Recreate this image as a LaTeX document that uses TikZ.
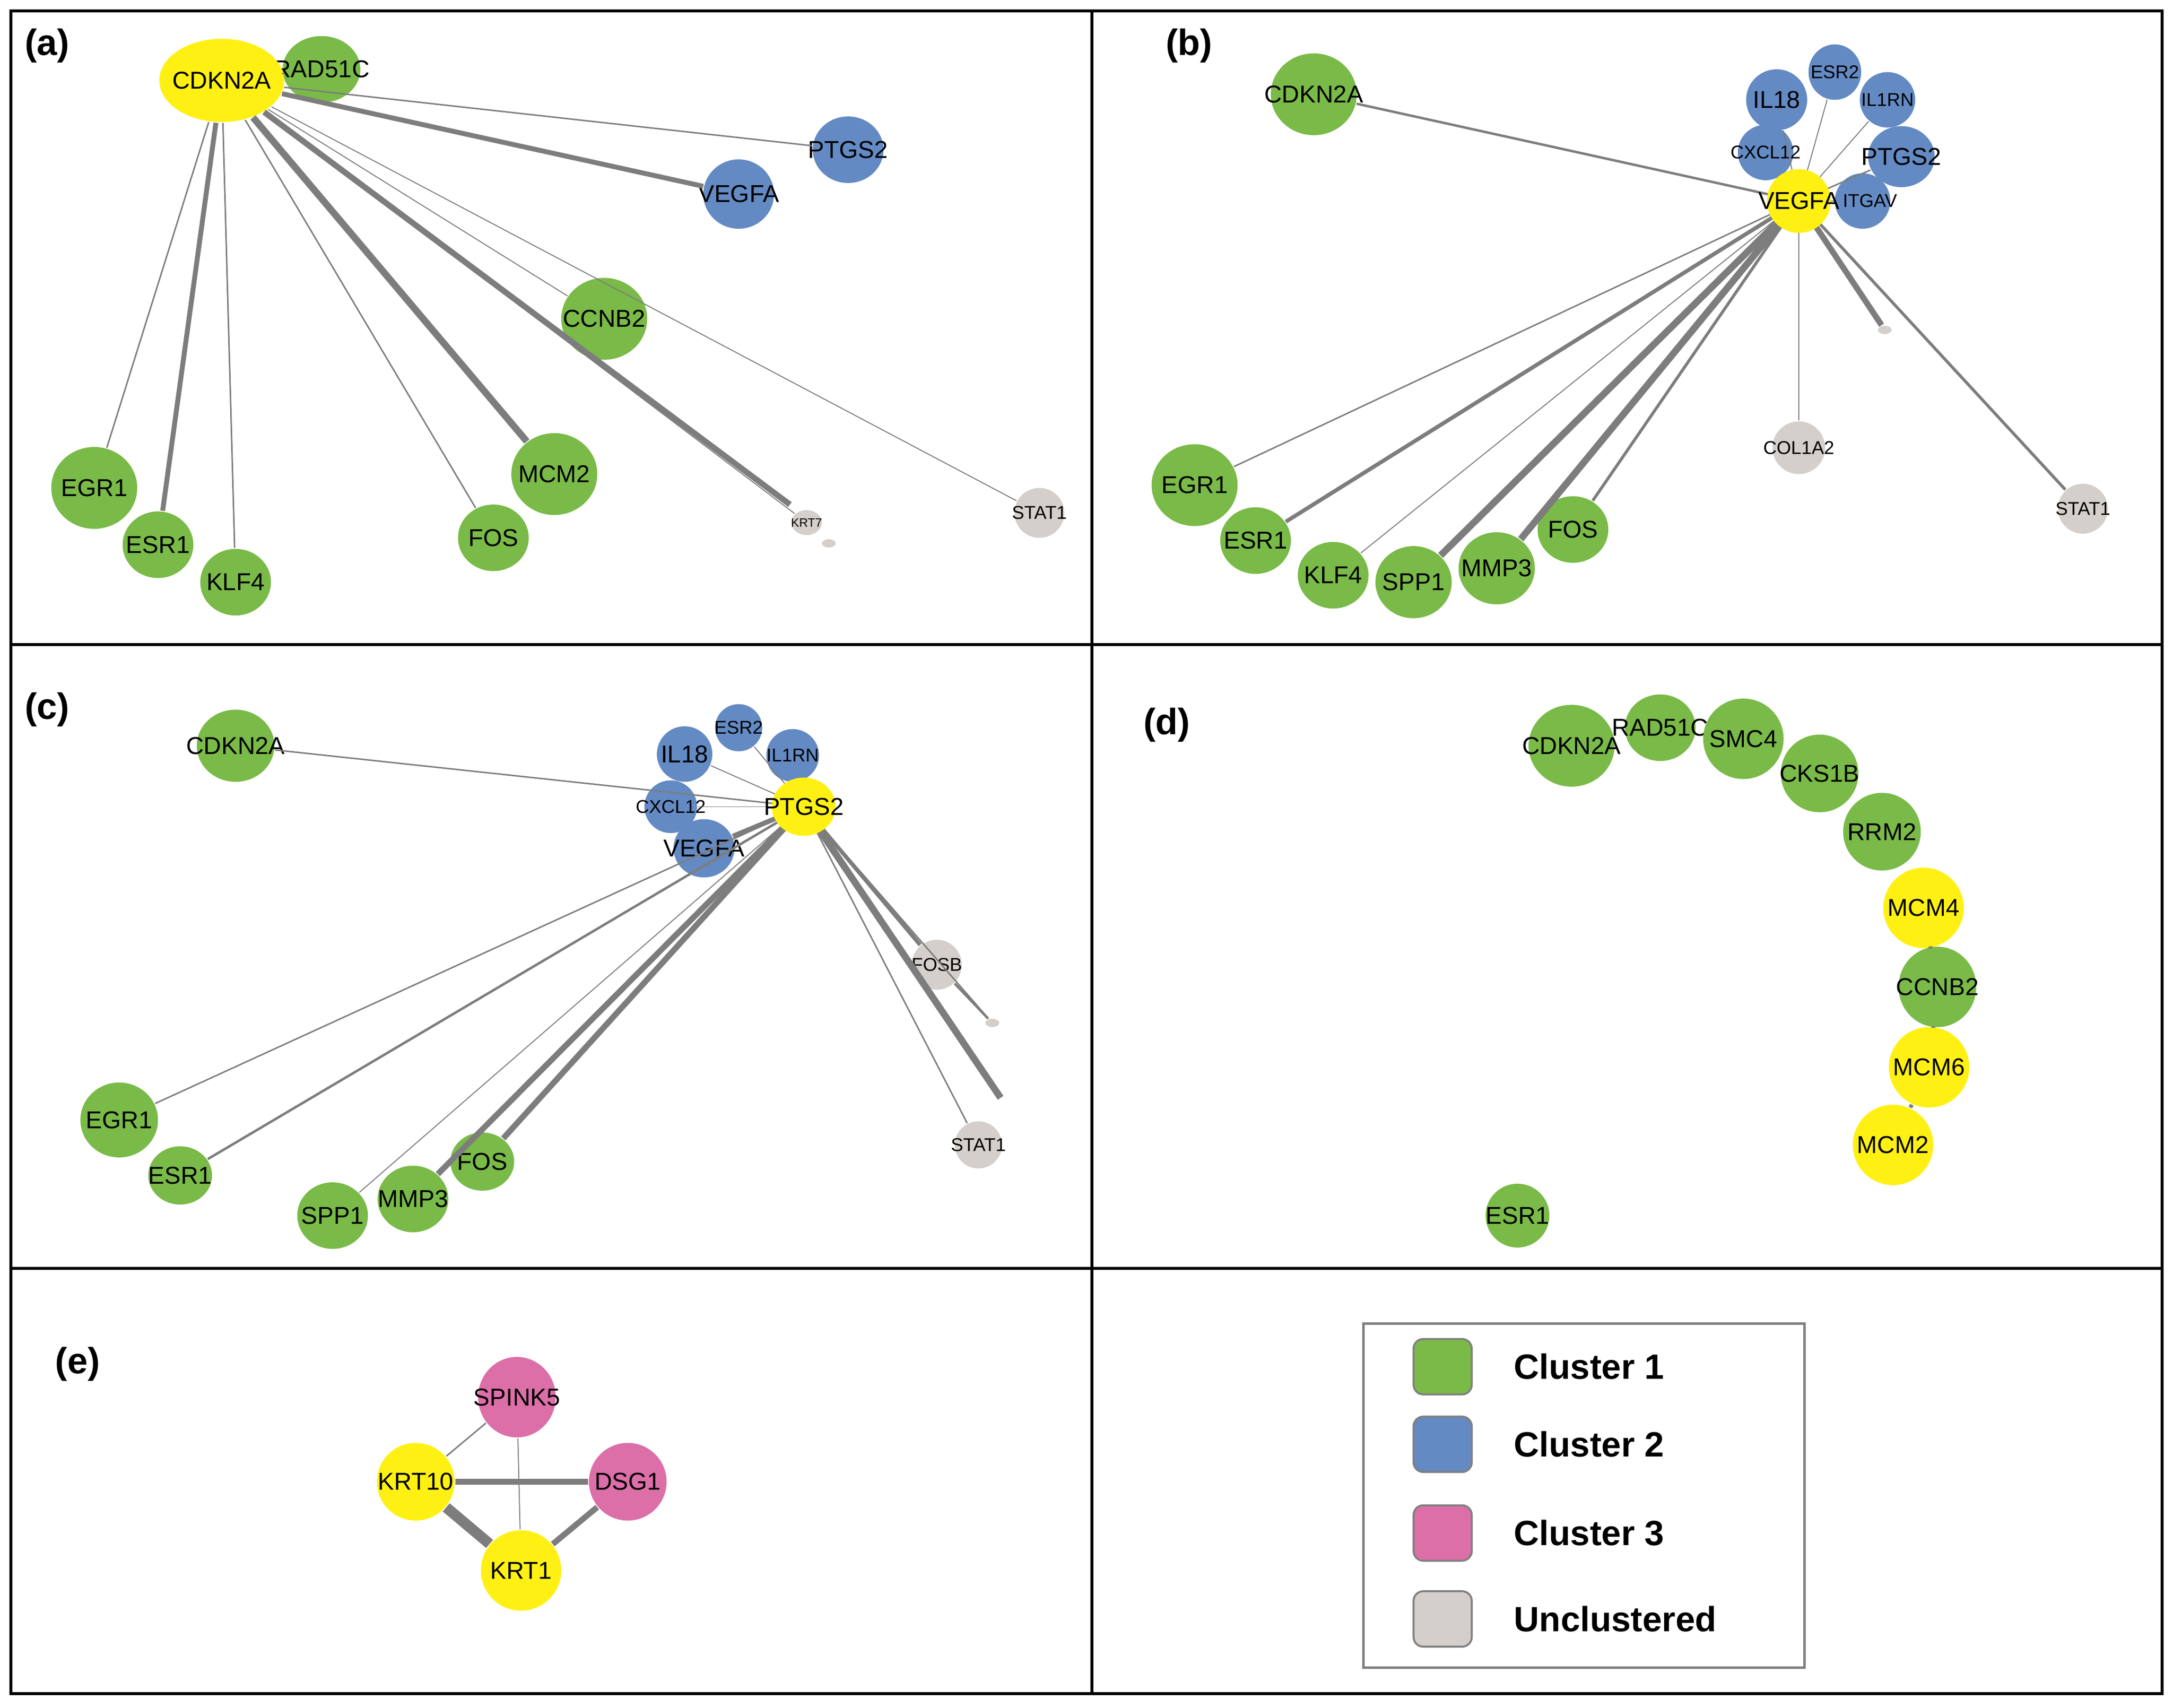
\documentclass[tikz,border=0pt]{standalone}
\usepackage{fontspec}
\setmainfont{Liberation Sans}
\usetikzlibrary{shapes.geometric}
\definecolor{clgreen}{RGB}{122,186,72}
\definecolor{clblue}{RGB}{100,138,196}
\definecolor{clpink}{RGB}{220,110,168}
\definecolor{clgrey}{RGB}{212,207,202}
\definecolor{hub}{RGB}{255,240,20}
\definecolor{edge}{RGB}{125,125,125}
\begin{document}
\begin{tikzpicture}[x=0.01cm, y=-0.01cm,
    gene/.style={ellipse, inner xsep=-1cm, inner ysep=0pt, font=\fontsize{5}{5}\selectfont},
    xl/.style={gene, minimum width=0.9cm, minimum height=0.6cm},
    lg/.style={gene, minimum width=0.62cm, minimum height=0.59cm},
    md/.style={gene, minimum width=0.51cm, minimum height=0.48cm},
    sm/.style={gene, minimum width=0.4cm, minimum height=0.4cm, font=\fontsize{3.8}{4}\selectfont},
    tiny/.style={gene, minimum width=0.1cm, minimum height=0.06cm},
    link/.style={draw=edge, line width=#1},
    link/.default=0.3pt,
    panel/.style={font=\fontsize{7.5}{8}\selectfont\bfseries},
    key/.style={rounded corners=2pt, draw=gray, minimum width=0.42cm, minimum height=0.4cm},
    keytext/.style={anchor=west, font=\fontsize{7.2}{8}\selectfont\bfseries}
  ]
  \useasboundingbox (0,0) rectangle (1568,1232);
  % Frame
  \draw[line width=0.6pt] (8,8) rectangle (1560,1222);
  \draw[line width=0.6pt] (8,465) -- (1560,465) (8,915) -- (1560,915) (788,8) -- (788,1222);

  % Panel (a)
  \node[panel] at (34,33) {(a)};
  \node[lg, fill=clgreen, minimum width=0.56cm, minimum height=0.48cm] (a-rad) at (232,50) {RAD51C};
  \node[md, fill=clblue] (a-ptgs) at (612,108) {PTGS2};
  \node[md, fill=clblue, minimum height=0.5cm] (a-vegfa) at (533,140) {VEGFA};
  \node[lg, fill=clgreen] (a-ccnb) at (436,230) {CCNB2};
  \node[lg, fill=clgreen] (a-egr) at (68,352) {EGR1};
  \node[md, fill=clgreen] (a-esr) at (114,393) {ESR1};
  \node[md, fill=clgreen] (a-klf) at (170,420) {KLF4};
  \node[md, fill=clgreen] (a-fos) at (356,388) {FOS};
  \node[lg, fill=clgreen] (a-mcm) at (400,342) {MCM2};
  \node[gene, fill=clgrey, minimum width=0.22cm, minimum height=0.18cm, font=\fontsize{2.5}{3}\selectfont] (a-krt) at (582,377) {KRT7};
  \node[tiny, fill=clgrey] (a-t) at (598,392) {};
  \node[sm, fill=clgrey, minimum width=0.36cm, minimum height=0.36cm] (a-stat) at (750,370) {STAT1};
  \coordinate (a-end) at (570,364);
  \node[xl, fill=hub] (a-hub) at (160,58) {CDKN2A};
  \foreach \t/\w in {a-rad/0.3pt, a-ptgs/0.3pt, a-vegfa/1pt, a-ccnb/0.2pt, a-egr/0.3pt, a-esr/1pt, a-klf/0.3pt, a-fos/0.3pt, a-mcm/1.4pt, a-end/1.2pt, a-krt/0.2pt, a-stat/0.2pt}
    \draw[link=\w] (a-hub) -- (\t);

  % Panel (b)
  \node[panel] at (858,33) {(b)};
  \node[lg, fill=clgreen] (b-cdkn) at (948,68) {CDKN2A};
  \node[sm, fill=clblue, minimum width=0.44cm, minimum height=0.44cm, font=\fontsize{5}{5}\selectfont] (b-il18) at (1282,72) {IL18};
  \node[sm, fill=clblue, minimum width=0.38cm] (b-esr2) at (1324,52) {ESR2};
  \node[sm, fill=clblue] (b-il1rn) at (1362,72) {IL1RN};
  \node[sm, fill=clblue] (b-cxcl) at (1274,110) {CXCL12};
  \node[md, fill=clblue, minimum width=0.48cm, minimum height=0.44cm] (b-ptgs) at (1372,113) {PTGS2};
  \node[sm, fill=clblue] (b-itgav) at (1344,145) {\hspace{0.8em}ITGAV};
  \node[tiny, fill=clgrey] (b-t) at (1360,238) {};
  \node[sm, fill=clgrey, minimum width=0.38cm, minimum height=0.38cm] (b-col) at (1298,323) {COL1A2};
  \node[sm, fill=clgrey, minimum width=0.36cm, minimum height=0.36cm] (b-stat) at (1503,367) {STAT1};
  \node[lg, fill=clgreen] (b-egr) at (862,350) {EGR1};
  \node[md, fill=clgreen] (b-esr) at (906,390) {ESR1};
  \node[md, fill=clgreen] (b-klf) at (962,415) {KLF4};
  \node[lg, fill=clgreen, minimum width=0.55cm, minimum height=0.52cm] (b-spp) at (1020,420) {SPP1};
  \node[lg, fill=clgreen, minimum width=0.55cm, minimum height=0.52cm] (b-mmp) at (1080,410) {MMP3};
  \node[md, fill=clgreen] (b-fos) at (1135,382) {FOS};
  \foreach \t/\w in {b-cdkn/0.5pt, b-il18/0.2pt, b-esr2/0.2pt, b-il1rn/0.2pt, b-cxcl/0.2pt, b-ptgs/0.3pt, b-itgav/0.3pt, b-t/1.2pt, b-col/0.2pt, b-stat/0.6pt, b-egr/0.3pt, b-esr/0.8pt, b-klf/0.2pt, b-spp/1.4pt, b-mmp/1.4pt, b-fos/0.6pt}
    \draw[link=\w] (1298,145) -- (\t);
  \node[md, fill=hub, minimum width=0.46cm, minimum height=0.46cm] (b-hub) at (1298,145) {VEGFA};

  % Panel (c)
  \node[panel] at (34,512) {(c)};
  \node[lg, fill=clgreen, minimum width=0.56cm, minimum height=0.52cm] (c-cdkn) at (170,538) {CDKN2A};
  \node[sm, fill=clblue, font=\fontsize{5}{5}\selectfont] (c-il18) at (494,544) {IL18};
  \node[sm, fill=clblue, minimum width=0.34cm, minimum height=0.34cm] (c-esr2) at (533,525) {ESR2};
  \node[sm, fill=clblue, minimum width=0.38cm, minimum height=0.38cm] (c-il1rn) at (572,545) {IL1RN};
  \node[sm, fill=clblue, minimum width=0.38cm, minimum height=0.38cm] (c-cxcl) at (484,582) {CXCL12};
  \node[md, fill=clblue, minimum width=0.44cm, minimum height=0.42cm] (c-vegfa) at (508,612) {VEGFA};
  \node[sm, fill=clgrey, minimum width=0.36cm, minimum height=0.36cm] (c-fosb) at (676,696) {FOSB};
  \node[tiny, fill=clgrey] (c-t) at (716,738) {};
  \node[sm, fill=clgrey, minimum width=0.34cm, minimum height=0.34cm] (c-stat) at (706,826) {STAT1};
  \coordinate (c-end) at (722,792);
  \node[lg, fill=clgreen, minimum width=0.56cm, minimum height=0.54cm] (c-egr) at (86,808) {EGR1};
  \node[md, fill=clgreen, minimum width=0.46cm, minimum height=0.42cm] (c-esr) at (130,848) {ESR1};
  \node[md, fill=clgreen] (c-spp) at (240,877) {SPP1};
  \node[md, fill=clgreen] (c-mmp) at (298,865) {MMP3};
  \node[md, fill=clgreen, minimum width=0.46cm, minimum height=0.42cm] (c-fos) at (348,838) {FOS};
  \foreach \t/\w in {c-cdkn/0.3pt, c-il18/0.2pt, c-esr2/0.2pt, c-il1rn/0.2pt, c-cxcl/0.2pt, c-vegfa/1pt, c-fosb/0.8pt, c-t/0.3pt, c-stat/0.3pt, c-end/1.4pt, c-egr/0.3pt, c-esr/0.5pt, c-spp/0.2pt, c-mmp/1.2pt, c-fos/1.2pt}
    \draw[link=\w] (580,582) -- (\t);
  \draw[link=0.5pt] (c-fosb) -- (c-t);
  \node[md, fill=hub, minimum width=0.46cm, minimum height=0.42cm] (c-hub) at (580,582) {PTGS2};

  % Panel (d)
  \node[panel] at (842,523) {(d)};
  \node[lg, fill=clgreen] (d-cdkn) at (1134,538) {CDKN2A};
  \node[md, fill=clgreen] (d-rad) at (1198,525) {RAD51C};
  \node[lg, fill=clgreen, minimum width=0.58cm, minimum height=0.58cm] (d-smc) at (1258,533) {SMC4};
  \node[lg, fill=clgreen, minimum width=0.56cm, minimum height=0.56cm] (d-cks) at (1313,558) {CKS1B};
  \node[lg, fill=clgreen, minimum width=0.56cm, minimum height=0.56cm] (d-rrm) at (1358,600) {RRM2};
  \node[lg, fill=hub, minimum width=0.58cm, minimum height=0.58cm] (d-mcm4) at (1388,655) {MCM4};
  \node[lg, fill=clgreen, minimum width=0.56cm, minimum height=0.58cm] (d-ccnb) at (1398,712) {CCNB2};
  \node[lg, fill=hub, minimum width=0.58cm, minimum height=0.58cm] (d-mcm6) at (1392,770) {MCM6};
  \node[lg, fill=hub, minimum width=0.58cm, minimum height=0.58cm] (d-mcm2) at (1366,826) {MCM2};
  \begin{scope}[on background layer/.style={}]
    \draw[link=0.8pt] (d-mcm4) -- (d-ccnb) (d-ccnb) -- (d-mcm6) (d-mcm6) -- (d-mcm2);
  \end{scope}
  \node[md, fill=clgreen, minimum width=0.46cm, minimum height=0.46cm] (d-esr) at (1095,877) {ESR1};

  % Panel (e)
  \node[panel] at (56,984) {(e)};
  \node[lg, fill=clpink, minimum width=0.56cm, minimum height=0.58cm] (e-spink) at (373,1008) {SPINK5};
  \node[lg, fill=hub, minimum width=0.56cm, minimum height=0.56cm] (e-krt10) at (300,1069) {KRT10};
  \node[lg, fill=clpink, minimum width=0.56cm, minimum height=0.56cm] (e-dsg) at (453,1069) {DSG1};
  \node[lg, fill=hub, minimum width=0.58cm, minimum height=0.58cm] (e-krt1) at (376,1133) {KRT1};
  \draw[link=0.3pt] (e-spink) -- (e-krt10);
  \draw[link=0.2pt] (e-spink) -- (e-krt1);
  \draw[link=1.2pt] (e-krt10) -- (e-dsg);
  \draw[link=2.2pt] (e-krt10) -- (e-krt1);
  \draw[link=1.2pt] (e-dsg) -- (e-krt1);

  % Legend
  \draw[gray, line width=0.5pt] (984,955) rectangle (1302,1203);
  \foreach \c/\y/\txt in {clgreen/986/Cluster 1, clblue/1042/Cluster 2, clpink/1106/Cluster 3, clgrey/1168/Unclustered}{
    \node[key, fill=\c] (key-\c) at (1041,\y) {};
    \node[keytext] at (1080,\y) {\txt};
  }
\end{tikzpicture}
\end{document}
